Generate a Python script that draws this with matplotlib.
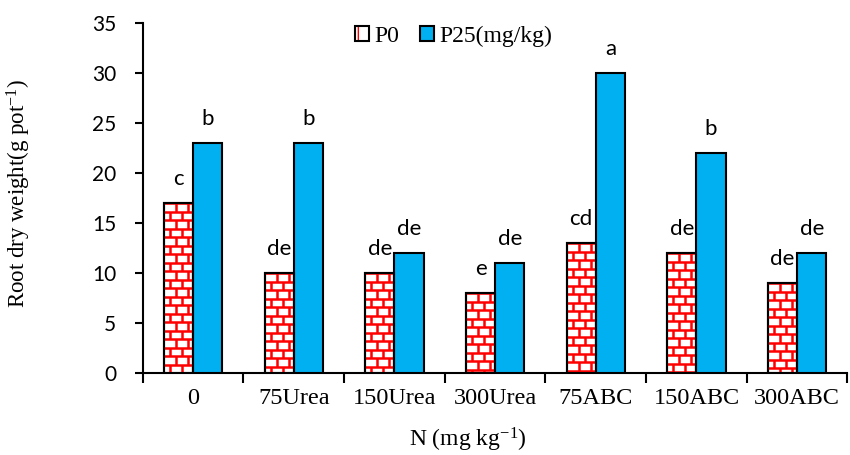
import numpy as np
import matplotlib
matplotlib.use("Agg")
import matplotlib.pyplot as plt
from matplotlib.collections import LineCollection
from matplotlib.patches import Patch
from matplotlib.legend_handler import HandlerTuple

# data
categories = ["0", "75Urea", "150Urea", "300Urea", "75ABC", "150ABC", "300ABC"]
p0 = [17, 10, 10, 8, 13, 12, 9]
p25 = [23, 23, 12, 11, 30, 22, 12]
p0_letters = ["c", "de", "de", "e", "cd", "de", "de"]
p25_letters = ["b", "b", "de", "de", "a", "b", "de"]

blue = "#00B0F0"
serif = "Liberation Serif"
sans = "Lato"

plt.rcParams["mathtext.fontset"] = "custom"
plt.rcParams["mathtext.rm"] = serif
plt.rcParams["mathtext.it"] = serif + ":italic"

fig = plt.figure(figsize=(8.5, 4.55), dpi=100)
ax = fig.add_axes([0.168, 0.18, 0.829, 0.769])

x = np.arange(len(categories))
w = 0.29
b0 = ax.bar(x - w / 2, p0, w, facecolor="white", edgecolor="black", linewidth=1.5, zorder=3)
b1 = ax.bar(x + w / 2, p25, w, facecolor=blue, edgecolor="black", linewidth=1.5, zorder=3)

# brick fill for the P0 bars
row_h = 0.85
brick_w = 0.12
for rect in b0:
    x0, x1 = rect.get_x(), rect.get_x() + rect.get_width()
    top = rect.get_height()
    segs = []
    ys = np.arange(top, 0, -row_h)
    for y in ys:
        segs.append([(x0, y), (x1, y)])
    for k, y in enumerate(ys):
        ylow = max(y - row_h, 0)
        start = x0 + (brick_w / 2 if k % 2 else brick_w)
        for xv in np.arange(start, x1, brick_w):
            segs.append([(xv, ylow), (xv, y)])
    lc = LineCollection(segs, colors="red", linewidths=1.8, zorder=3.5)
    ax.add_collection(lc)
    lc.set_clip_path(rect)
    # outline on top of the bricks
    ax.bar(rect.get_x() + rect.get_width() / 2, top, rect.get_width(), facecolor="none",
           edgecolor="black", linewidth=1.5, zorder=4)

for xi, v, t in zip(x - w / 2, p0, p0_letters):
    ax.text(xi, v + 1.4, t, ha="center", va="bottom", fontsize=16, family=sans)
for xi, v, t in zip(x + w / 2, p25, p25_letters):
    ax.text(xi, v + 1.4, t, ha="center", va="bottom", fontsize=16, family=sans)

ax.set_xlim(-0.5, len(categories) - 0.5)
ax.set_ylim(0, 35)
ax.set_yticks(range(0, 36, 5))
ax.tick_params(axis="y", direction="out", length=6, width=1.5, labelsize=15, pad=13)
for lab in ax.get_yticklabels():
    lab.set_family(sans)
ax.set_xticks(x)
ax.set_xticklabels(categories, fontsize=17.5, family=serif)
ax.tick_params(axis="x", length=0, pad=11)
ax.set_xticks(np.arange(-0.5, len(categories)), minor=True)
ax.tick_params(axis="x", which="minor", direction="out", length=7, width=1.5)

for s in ["top", "right"]:
    ax.spines[s].set_visible(False)
for s in ["left", "bottom"]:
    ax.spines[s].set_linewidth(1.5)

ax.set_ylabel("Root dry weight(g pot$^{\\mathrm{-1}}$)", fontsize=16.5, family=serif)
ax.yaxis.set_label_coords(-0.156, 0.514)
ax.set_xlabel("N (mg kg$^{\\mathrm{-1}}$)", fontsize=17, family=serif)
ax.xaxis.set_label_coords(0.461, -0.15)

p0_handle = (Patch(facecolor="white", edgecolor="red", hatch="+", linewidth=0),
             Patch(facecolor="none", edgecolor="black", linewidth=1.5))
p25_handle = Patch(facecolor=blue, edgecolor="black", linewidth=1.5)
leg = ax.legend([p0_handle, p25_handle], ["P0", "P25(mg/kg)"], loc="center",
                bbox_to_anchor=(0.441, 0.963), ncol=2, frameon=False,
                prop={"family": serif, "size": 17}, handlelength=0.6, handleheight=0.6,
                handletextpad=0.2, columnspacing=0.9,
                handler_map={tuple: HandlerTuple(ndivide=1, pad=0)})

fig.savefig("out.png", dpi=100)
